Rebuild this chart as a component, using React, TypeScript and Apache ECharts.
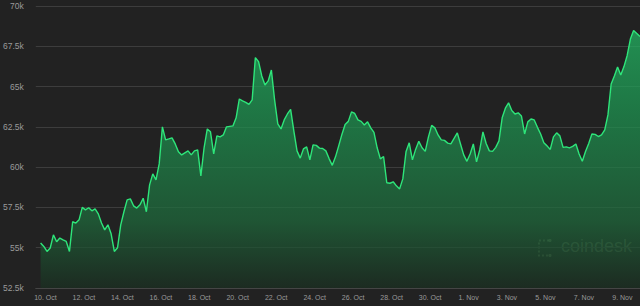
import React, { useEffect, useRef } from "react";
import * as echarts from "echarts";

// Time axis: hours relative to 10 Oct 00:00, one reading every 4 hours from 9 Oct 18:00
const startHour = -6;
const stepHours = 4;

// BTC price (USD)
const prices: number[] = [
  55290, 55080, 54770, 54980, 55800, 55370, 55600, 55490, 55390, 54770,
  56610, 56530, 56730, 57500, 57350, 57480, 57290, 57410, 57100, 56530,
  56110, 56420, 55860, 54770, 55000, 56420, 57230, 57970, 58030, 57600,
  57460, 57660, 58070, 57230, 58900, 59580, 59210, 60200, 62500, 61690,
  61750, 61820, 61440, 60950, 60760, 60890, 61010, 60760, 61010, 61070,
  59460, 61200, 62370, 62190, 60820, 61940, 61880, 62000, 62500, 62530,
  62560, 63060, 64230, 64110, 64020, 63890, 64170, 66800, 66550, 65660,
  65100, 65350, 66030, 64170, 62680, 62370, 62930, 63300, 63580, 62250,
  61010, 60560, 61130, 61260, 60450, 61380, 61350, 61180, 61160, 61010,
  60530, 60110, 60640, 61320, 62030, 62650, 62840, 63430, 63330, 62930,
  62840, 62620, 62810, 62440, 62160, 61200, 60510, 60660, 59030, 59000,
  59090, 58840, 58650, 59270, 60950, 61510, 60450, 61100, 61600, 61200,
  60980, 61880, 62590, 62440, 62000, 61690, 61660, 61490, 61440, 61790,
  62130, 61440, 60760, 60360, 60820, 61440, 60330, 61070, 62190, 61470,
  61010, 60980, 61230, 61630, 63060, 63660, 63990, 63520, 63300, 63370,
  63180, 62060, 62810, 62990, 62930, 62470, 62060, 61510, 61320, 61100,
  61880, 62130, 61940, 61230, 61260, 61200, 61290, 61440, 60820, 60360,
  60970, 61470, 62060, 62030, 61900, 62000, 62310, 63240, 65160, 65660,
  66220, 65720, 66240, 66930, 67950, 68480, 68300, 68110,
];

const tickLabels: string[] = [
  "10. Oct", "12. Oct", "14. Oct", "16. Oct", "18. Oct", "20. Oct", "22. Oct", "24. Oct",
  "26. Oct", "28. Oct", "30. Oct", "1. Nov", "3. Nov", "5. Nov", "7. Nov", "9. Nov",
];
const tickStepHours = 48;
const tickHours = tickLabels.map((_, i) => i * tickStepHours);

const yMin = 52500;
const yMax = 70000;
const yStep = 2500;

export default function App() {
  const ref = useRef<HTMLDivElement>(null);

  useEffect(() => {
    if (!ref.current) return;
    const chart = echarts.init(ref.current, null, { renderer: "svg" });
    const data = prices.map((p, i) => [startHour + i * stepHours, p]);
    const lastHour = startHour + (prices.length - 1) * stepHours;

    chart.setOption({
      animation: false,
      backgroundColor: "#222222",
      grid: { left: 35, right: 0, top: 6, bottom: 18 },
      xAxis: {
        type: "value",
        min: -12,
        max: lastHour,
        axisLine: { show: true, lineStyle: { color: "#454545", width: 1 } },
        axisTick: { show: false },
        splitLine: { show: false },
        axisLabel: {
          customValues: tickHours,
          formatter: (v: number) => tickLabels[Math.round(v / tickStepHours)] ?? "",
          color: "#9a9a9a",
          fontSize: 7,
          fontFamily: "Liberation Sans, Arial, sans-serif",
          margin: 6,
          hideOverlap: false,
        },
      },
      yAxis: {
        type: "value",
        min: yMin,
        max: yMax,
        interval: yStep,
        axisLine: { show: false },
        axisTick: { show: false },
        splitLine: { show: true, lineStyle: { color: "#3d3d3d", width: 1 } },
        axisLabel: {
          formatter: (v: number) => `${v / 1000}k`,
          color: "#9a9a9a",
          fontSize: 8.5,
          fontFamily: "Liberation Sans, Arial, sans-serif",
          margin: 12,
        },
      },
      graphic: [
        {
          type: "group",
          right: 8,
          bottom: 48,
          silent: true,
          children: [
            {
              type: "polyline",
              shape: { points: [[12, 1], [2, 1], [2, 16], [12, 16]] },
              style: { stroke: "rgba(175,215,150,0.28)", lineWidth: 2, fill: "none", lineDash: [2, 2] },
            },
            { type: "circle", shape: { cx: 13, cy: 1, r: 1.6 }, style: { fill: "rgba(175,215,150,0.3)" } },
            { type: "circle", shape: { cx: 13, cy: 16, r: 1.6 }, style: { fill: "rgba(175,215,150,0.3)" } },
            {
              type: "text",
              x: 24,
              y: -3,
              style: {
                text: "coindesk",
                fill: "rgba(175,215,160,0.28)",
                font: "18px 'Liberation Sans', Arial, sans-serif",
              },
            },
          ],
        },
      ],
      series: [
        {
          type: "line",
          data,
          showSymbol: false,
          smooth: false,
          lineStyle: { color: "#2ee57a", width: 1.4 },
          itemStyle: { color: "#2ee57a" },
          areaStyle: {
            color: new echarts.graphic.LinearGradient(0, 0, 0, 1, [
              { offset: 0, color: "#22bd66" },
              { offset: 0.3, color: "#1d9c54" },
              { offset: 0.74, color: "#1e6b3c" },
              { offset: 1, color: "#1a2f21" },
            ]),
          },
        },
      ],
    });

    return () => chart.dispose();
  }, []);

  return (
    <div
      ref={ref}
      style={{ position: "fixed", left: 0, top: 0, width: 640, height: 306 }}
    />
  );
}
